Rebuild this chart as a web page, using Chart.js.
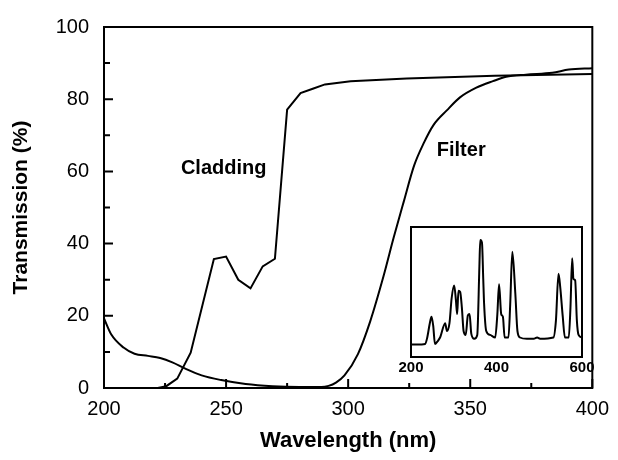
<!DOCTYPE html>
<html>
<head>
<meta charset="utf-8">
<script src="https://cdn.jsdelivr.net/npm/chart.js@4"></script>
<style>
  body { margin: 0; background: #fff; }
  #wrap { position: relative; width: 618px; height: 460px; }
  #main { position: absolute; left: 0; top: 0; }
  #inset { position: absolute; left: 390px; top: 215px; }
</style>
</head>
<body>
<div id="wrap">
  <canvas id="main" width="618" height="460"></canvas>
  <canvas id="inset" width="220" height="165"></canvas>
</div>
<script>
// transmission curves (wavelength in nm, transmission in %)
const claddingWl = [222, 225.5, 230, 235.5, 245, 250, 255, 260, 265, 270, 275, 280.5, 285.5, 290.5, 301, 324, 360, 400];
const claddingT  = [0, 0.5, 2.6, 9.8, 35.7, 36.4, 30, 27.6, 33.7, 35.8, 77.1, 81.7, 82.9, 84.1, 85, 85.7, 86.5, 87];

const filterWl = [200, 203, 208, 212.5, 218, 223, 228, 233.5, 240, 248, 258, 269, 280, 289, 292, 295, 298.5, 304, 309, 314.5, 318.7, 322.8, 327, 331, 335, 340.4, 345.8, 352.5, 359.3, 364.7, 372.8, 383.6, 390.4, 400];
const filterT  = [19.3, 14.8, 11.2, 9.5, 8.9, 8.3, 7.1, 5.3, 3.5, 2.2, 1.1, 0.5, 0.3, 0.3, 0.6, 1.5, 3.5, 9.4, 18.4, 31, 41.8, 51.7, 61.6, 67.9, 72.9, 76.9, 80.5, 83.2, 85, 86.2, 86.8, 87.3, 88.2, 88.6];

// inset: lamp emission spectrum (arbitrary units)
const spectrumWl = [200, 225, 233, 238, 244, 248, 252, 256, 262, 268, 280, 284, 290, 295, 301, 305, 308, 311, 315, 319, 323, 328, 333, 337, 341, 348, 355, 360, 362, 366, 369, 371, 376, 385, 397, 402, 406, 411, 415, 419, 428, 432, 437, 444, 449, 455, 471, 487, 495, 502, 533, 539, 545, 549, 555, 560, 569, 573, 577, 580, 584, 588, 592, 600];
const spectrumI  = [9.7, 9.7, 10, 15, 26, 31, 24, 10, 12, 15, 26, 20, 26, 45, 55, 44, 33, 51, 50, 38, 20, 17, 32, 33, 18, 14, 17, 70, 90, 88, 60, 41, 20, 17, 15, 33, 56, 33, 31, 15, 15, 40, 81, 49, 20, 15, 14, 14, 15, 14, 15, 28, 64, 54, 31, 15, 15, 38, 76, 60, 59, 28, 17, 15];

const xTicks = [200, 250, 300, 350, 400];
const yTicks = [0, 20, 40, 60, 80, 100];
const insetTicks = [200, 400, 600];

const FONT = '"Liberation Sans", Arial, sans-serif';

function pts(xs, ys) { return xs.map((x, i) => ({ x: x, y: ys[i] })); }

// frame around the plot area
const framePlugin = {
  id: 'frame',
  afterDraw(chart) {
    const a = chart.chartArea, ctx = chart.ctx;
    ctx.save();
    ctx.strokeStyle = '#000';
    ctx.lineWidth = 2;
    ctx.strokeRect(a.left, a.top, a.right - a.left, a.bottom - a.top);
    ctx.restore();
  }
};

// inward ticks on the bottom and left axes
const inTicksPlugin = {
  id: 'inTicks',
  afterDraw(chart) {
    const ctx = chart.ctx, a = chart.chartArea;
    const xs = chart.scales.x, ys = chart.scales.y;
    ctx.save();
    ctx.strokeStyle = '#000';
    ctx.lineWidth = 2;
    ctx.beginPath();
    for (let v = 200; v <= 400; v += 25) {
      const px = xs.getPixelForValue(v);
      const len = (v % 50 === 0) ? 9 : 5;
      ctx.moveTo(px, a.bottom); ctx.lineTo(px, a.bottom - len);
    }
    for (let v = 0; v <= 100; v += 10) {
      const py = ys.getPixelForValue(v);
      const len = (v % 20 === 0) ? 9 : 6;
      ctx.moveTo(a.left, py); ctx.lineTo(a.left + len, py);
    }
    ctx.stroke();
    ctx.restore();
  }
};

const labelsPlugin = {
  id: 'curveLabels',
  afterDraw(chart) {
    const ctx = chart.ctx, xs = chart.scales.x, ys = chart.scales.y;
    ctx.save();
    ctx.fillStyle = '#000';
    ctx.font = 'bold 20px ' + FONT;
    ctx.textBaseline = 'middle';
    ctx.textAlign = 'left';
    ctx.fillText('Cladding', xs.getPixelForValue(231.5), ys.getPixelForValue(60.8));
    ctx.fillText('Filter', xs.getPixelForValue(336.3), ys.getPixelForValue(65.7));
    ctx.restore();
  }
};

new Chart(document.getElementById('main'), {
  type: 'line',
  data: {
    datasets: [
      {
        label: 'Cladding',
        data: pts(claddingWl, claddingT),
        borderColor: '#000',
        borderWidth: 2,
        pointRadius: 0,
        tension: 0
      },
      {
        label: 'Filter',
        data: pts(filterWl, filterT),
        borderColor: '#000',
        borderWidth: 2,
        pointRadius: 0,
        cubicInterpolationMode: 'monotone'
      }
    ]
  },
  options: {
    responsive: false,
    animation: false,
    devicePixelRatio: 1,
    layout: { padding: { top: 18, right: 21, left: 0, bottom: 0 } },
    plugins: { legend: { display: false }, tooltip: { enabled: false } },
    scales: {
      x: {
        type: 'linear',
        min: 200, max: 400,
        afterFit(s) { s.height = 72; },
        afterBuildTicks(s) { s.ticks = xTicks.map(v => ({ value: v })); },
        grid: { display: false, drawTicks: false },
        border: { display: true, color: '#000', width: 2 },
        ticks: { color: '#000', padding: 9, font: { family: FONT, size: 20 } },
        title: {
          display: true, text: 'Wavelength (nm)', color: '#000',
          padding: { top: 0, bottom: 6 },
          font: { family: FONT, size: 22, weight: 'bold' }
        }
      },
      y: {
        min: 0, max: 100,
        afterFit(s) { s.width = 104; },
        afterBuildTicks(s) { s.ticks = yTicks.map(v => ({ value: v })); },
        grid: { display: false, drawTicks: false },
        border: { display: true, color: '#000', width: 2 },
        ticks: { color: '#000', padding: 15, font: { family: FONT, size: 20 } },
        title: {
          display: true, text: 'Transmission (%)', color: '#000',
          padding: { top: 9, bottom: 0 },
          font: { family: FONT, size: 21, weight: 'bold' }
        }
      }
    }
  },
  plugins: [framePlugin, inTicksPlugin, labelsPlugin]
});

new Chart(document.getElementById('inset'), {
  type: 'line',
  data: {
    datasets: [{
      label: 'Spectrum',
      data: pts(spectrumWl, spectrumI),
      borderColor: '#000',
      borderWidth: 2,
      pointRadius: 0,
      cubicInterpolationMode: 'monotone'
    }]
  },
  options: {
    responsive: false,
    animation: false,
    devicePixelRatio: 1,
    layout: { padding: { top: 12, right: 28, left: 21, bottom: 0 } },
    plugins: { legend: { display: false }, tooltip: { enabled: false } },
    scales: {
      x: {
        type: 'linear',
        min: 200, max: 600,
        afterFit(s) { s.height = 23; },
        afterBuildTicks(s) { s.ticks = insetTicks.map(v => ({ value: v })); },
        grid: { display: false, drawTicks: false },
        border: { display: true, color: '#000', width: 2 },
        ticks: { color: '#000', padding: 2, font: { family: FONT, size: 15, weight: 'bold' } }
      },
      y: { display: false, min: 0, max: 100 }
    }
  },
  plugins: [framePlugin]
});
</script>
</body>
</html>
